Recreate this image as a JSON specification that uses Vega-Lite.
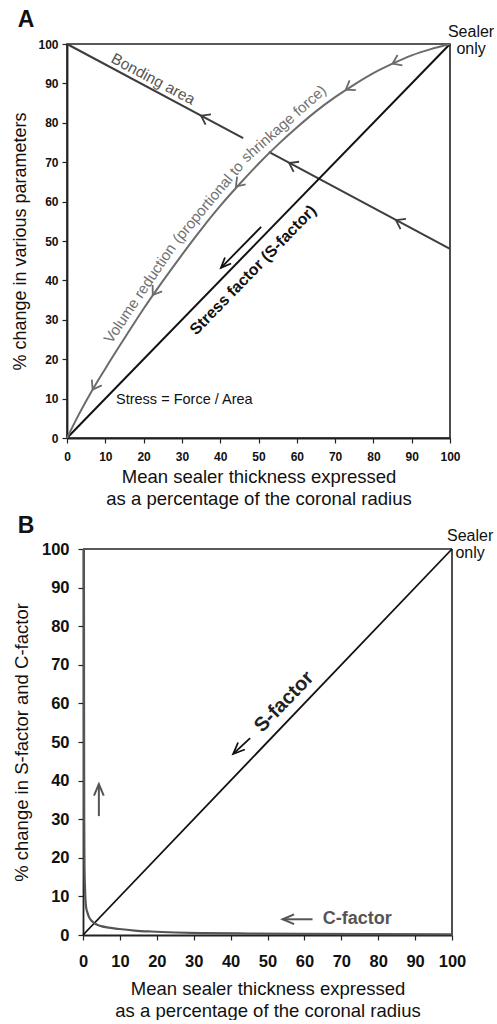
{
  "$schema": "https://vega.github.io/schema/vega-lite/v6.json",
  "background": "white",
  "padding": {"left": 11, "top": 7, "right": 0, "bottom": 0},
  "spacing": 5,
  "config": {
    "font": "Liberation Sans",
    "view": {"stroke": "#222", "strokeWidth": 1.6},
    "axis": {"grid": false, "domainColor": "#222", "domainWidth": 1.8, "tickColor": "#222", "tickWidth": 1.2, "tickSize": 5, "labelFont": "Liberation Sans", "labelFontWeight": "bold", "labelColor": "#111", "labelFlush": false, "labelOverlap": false, "titleFont": "Liberation Sans", "titleFontWeight": "normal", "titleColor": "#111"},
    "text": {"font": "Liberation Sans"}
  },
  "datasets": {
    "volume": [{"x":0,"y":0},{"x":3,"y":5.8},{"x":6.7,"y":12.3},{"x":10,"y":17.6},{"x":15,"y":25.3},{"x":20,"y":32.8},{"x":25,"y":39.8},{"x":30,"y":46.5},{"x":35,"y":52.9},{"x":40,"y":58.9},{"x":45,"y":64.4},{"x":50,"y":69.6},{"x":55,"y":74.4},{"x":60,"y":78.8},{"x":65,"y":82.9},{"x":70,"y":86.5},{"x":75,"y":89.7},{"x":80,"y":92.6},{"x":85,"y":95.0},{"x":90,"y":97.1},{"x":95,"y":98.7},{"x":100,"y":100}],
    "bonding": [{"x":0,"y":100,"part":"a"},{"x":46,"y":76.1,"part":"a"},{"x":52.7,"y":72.6,"part":"b"},{"x":100,"y":48,"part":"b"}],
    "diag": [{"x":0,"y":0},{"x":100,"y":100}],
    "cfactor": [{"x":0.25,"y":100},{"x":0.28,"y":60},{"x":0.33,"y":30},{"x":0.4,"y":18},{"x":0.55,"y":12},{"x":0.8,"y":7.5},{"x":1.2,"y":5.8},{"x":1.7,"y":4.5},{"x":2.3,"y":3.7},{"x":3.1,"y":3.1},{"x":4,"y":2.6},{"x":4.9,"y":2.3},{"x":7,"y":1.9},{"x":9.8,"y":1.55},{"x":14,"y":1.15},{"x":18.4,"y":0.9},{"x":25,"y":0.65},{"x":32,"y":0.5},{"x":45,"y":0.38},{"x":60,"y":0.3},{"x":80,"y":0.24},{"x":100,"y":0.2}]
  },
  "vconcat": [
    {
      "width": 383,
      "height": 394,
      "encoding": {
        "x": {"field": "x", "type": "quantitative", "scale": {"domain": [0, 100], "nice": false},
          "axis": {"values": [0,10,20,30,40,50,60,70,80,90,100], "labelFontSize": 12, "labelPadding": 8, "title": ["Mean sealer thickness expressed", "as a percentage of the coronal radius"], "titleFontSize": 18.5, "titleLineHeight": 22, "titlePadding": 5}},
        "y": {"field": "y", "type": "quantitative", "scale": {"domain": [0, 100], "nice": false},
          "axis": {"values": [0,10,20,30,40,50,60,70,80,90,100], "labelFontSize": 12, "labelPadding": 4, "title": "% change in various parameters", "titleFontSize": 18, "titlePadding": 8}}
      },
      "layer": [
        {"data": {"name": "bonding"}, "mark": {"type": "line", "color": "#3d3d3d", "strokeWidth": 2}, "encoding": {"detail": {"field": "part"}}},
        {"data": {"name": "diag"}, "mark": {"type": "line", "color": "#111", "strokeWidth": 2}},
        {"data": {"name": "volume"}, "mark": {"type": "line", "color": "#6b6b6b", "strokeWidth": 2, "interpolate": "monotone"}},
        {"data": {"values": [{"x":35,"y":81.8},{"x":58,"y":69.8},{"x":85.9,"y":55.3}]}, "mark": {"type": "point", "shape": "M1.64,-1.15L0,0L1.64,1.15", "size": 100, "angle": 28, "filled": false, "stroke": "#3d3d3d", "strokeWidth": 1.8, "opacity": 1}},
        {"data": {"values": [{"x":6.7,"y":12.3}]}, "mark": {"type": "point", "shape": "M1.64,-1.15L0,0L1.64,1.15", "size": 100, "angle": -60, "filled": false, "stroke": "#6b6b6b", "strokeWidth": 1.8, "opacity": 1}},
        {"data": {"values": [{"x":22.4,"y":36.3}]}, "mark": {"type": "point", "shape": "M1.64,-1.15L0,0L1.64,1.15", "size": 100, "angle": -56, "filled": false, "stroke": "#6b6b6b", "strokeWidth": 1.8, "opacity": 1}},
        {"data": {"values": [{"x":44.1,"y":63.8}]}, "mark": {"type": "point", "shape": "M1.64,-1.15L0,0L1.64,1.15", "size": 100, "angle": -48, "filled": false, "stroke": "#6b6b6b", "strokeWidth": 1.8, "opacity": 1}},
        {"data": {"values": [{"x":72.8,"y":88.4}]}, "mark": {"type": "point", "shape": "M1.64,-1.15L0,0L1.64,1.15", "size": 100, "angle": -33, "filled": false, "stroke": "#6b6b6b", "strokeWidth": 1.8, "opacity": 1}},
        {"data": {"values": [{"x":85,"y":95.0}]}, "mark": {"type": "point", "shape": "M1.64,-1.15L0,0L1.64,1.15", "size": 100, "angle": -25, "filled": false, "stroke": "#6b6b6b", "strokeWidth": 1.8, "opacity": 1}},
        {"data": {"values": [{"x":50.7,"y":53.6,"x2":40.2,"y2":43.2}]}, "mark": {"type": "rule", "color": "#111", "strokeWidth": 1.8}, "encoding": {"x2": {"field": "x2"}, "y2": {"field": "y2"}}},
        {"data": {"values": [{"x":40.2,"y":43.2}]}, "mark": {"type": "point", "shape": "M1.84,-0.78L0,0L1.84,0.78", "size": 121, "angle": -45.8, "filled": false, "stroke": "#111", "strokeWidth": 1.8, "opacity": 1}},
        {"data": {"values": [{"x":22.5,"y":91.1,"label":"Bonding area"}]}, "mark": {"type": "text", "angle": 28, "fontSize": 15.5, "color": "#555", "align": "center", "baseline": "middle"}, "encoding": {"text": {"field": "label"}}},
        {"data": {"values": [{"x":19.0,"y":36.7,"label":"Volume reduction"}]}, "mark": {"type": "text", "angle": -56, "fontSize": 15, "color": "#707070", "align": "center", "baseline": "middle"}, "encoding": {"text": {"field": "label"}}},
        {"data": {"values": [{"x":36.8,"y":59.8,"label":"(proportional to"}]}, "mark": {"type": "text", "angle": -50, "fontSize": 15, "color": "#707070", "align": "center", "baseline": "middle"}, "encoding": {"text": {"field": "label"}}},
        {"data": {"values": [{"x":56.6,"y":79.8,"label":"shrinkage force)"}]}, "mark": {"type": "text", "angle": -41.5, "fontSize": 15, "color": "#707070", "align": "center", "baseline": "middle"}, "encoding": {"text": {"field": "label"}}},
        {"data": {"values": [{"x":48.6,"y":42.6,"label":"Stress factor (S-factor)"}]}, "mark": {"type": "text", "angle": -45.8, "fontSize": 16, "fontWeight": "bold", "color": "#111", "align": "center", "baseline": "middle"}, "encoding": {"text": {"field": "label"}}},
        {"data": {"values": [{"x":12.8,"y":9.6,"label":"Stress = Force / Area"}]}, "mark": {"type": "text", "fontSize": 14.5, "color": "#111", "align": "left", "baseline": "middle"}, "encoding": {"text": {"field": "label"}}},
        {"data": {"values": [{"x":105.5,"y":103.1,"label":"Sealer\nonly"}]}, "mark": {"type": "text", "fontSize": 16, "lineHeight": 17, "lineBreak": "\n", "color": "#111", "align": "center", "baseline": "middle"}, "encoding": {"text": {"field": "label"}}},
        {"data": {"values": [{"x":-10.7,"y":106.2,"label":"A"}]}, "mark": {"type": "text", "fontSize": 23, "fontWeight": "bold", "color": "#111", "align": "center", "baseline": "middle"}, "encoding": {"text": {"field": "label"}}}
      ]
    },
    {
      "width": 385,
      "height": 386,
      "view": {"stroke": null},
      "encoding": {
        "x": {"field": "x", "type": "quantitative", "scale": {"domain": [0, 100], "range": [16, 385], "nice": false},
          "axis": {"values": [0,10,20,30,40,50,60,70,80,90,100], "labelFontSize": 16.5, "labelPadding": 13, "title": ["Mean sealer thickness expressed", "as a percentage of the coronal radius"], "titleFontSize": 18.5, "titleLineHeight": 22, "titlePadding": 10}},
        "y": {"field": "y", "type": "quantitative", "scale": {"domain": [0, 100], "nice": false},
          "axis": {"values": [0,10,20,30,40,50,60,70,80,90,100], "offset": -16, "labelFontSize": 16.5, "labelPadding": 9, "title": "% change in S-factor and C-factor", "titleFontSize": 18.5, "titlePadding": 9.5}}
      },
      "layer": [
        {"data": {"values": [{"x":0,"y":100,"x2":100,"y2":100},{"x":100,"y":0,"x2":100,"y2":100}]}, "mark": {"type": "rule", "color": "#222", "strokeWidth": 1.6}, "encoding": {"x2": {"field": "x2"}, "y2": {"field": "y2"}}},
        {"data": {"name": "diag"}, "mark": {"type": "line", "color": "#111", "strokeWidth": 1.8}},
        {"data": {"name": "cfactor"}, "mark": {"type": "line", "color": "#555", "strokeWidth": 2.2, "interpolate": "monotone"}},
        {"data": {"values": [{"x":45.3,"y":51.0,"x2":40.7,"y2":46.9}]}, "mark": {"type": "rule", "color": "#111", "strokeWidth": 1.8}, "encoding": {"x2": {"field": "x2"}, "y2": {"field": "y2"}}},
        {"data": {"values": [{"x":40.7,"y":46.9}]}, "mark": {"type": "point", "shape": "M1.84,-0.78L0,0L1.84,0.78", "size": 156, "angle": -44, "filled": false, "stroke": "#111", "strokeWidth": 1.8, "opacity": 1}},
        {"data": {"values": [{"x":62.2,"y":4.07,"x2":54.1,"y2":4.07}]}, "mark": {"type": "rule", "color": "#555", "strokeWidth": 2}, "encoding": {"x2": {"field": "x2"}, "y2": {"field": "y2"}}},
        {"data": {"values": [{"x":54.1,"y":4.07}]}, "mark": {"type": "point", "shape": "M1.84,-0.78L0,0L1.84,0.78", "size": 156, "angle": 0, "filled": false, "stroke": "#555", "strokeWidth": 2, "opacity": 1}},
        {"data": {"values": [{"x":4.3,"y":30.8,"x2":4.3,"y2":39.1}]}, "mark": {"type": "rule", "color": "#555", "strokeWidth": 2}, "encoding": {"x2": {"field": "x2"}, "y2": {"field": "y2"}}},
        {"data": {"values": [{"x":4.3,"y":39.1}]}, "mark": {"type": "point", "shape": "M1.84,-0.78L0,0L1.84,0.78", "size": 156, "angle": 90, "filled": false, "stroke": "#555", "strokeWidth": 2, "opacity": 1}},
        {"data": {"values": [{"x":54.5,"y":60.4,"label":"S-factor"}]}, "mark": {"type": "text", "angle": -46.3, "fontSize": 20, "fontWeight": "bold", "color": "#222", "align": "center", "baseline": "middle"}, "encoding": {"text": {"field": "label"}}},
        {"data": {"values": [{"x":65.0,"y":4.1,"label":"C-factor"}]}, "mark": {"type": "text", "fontSize": 18, "fontWeight": "bold", "color": "#555", "align": "left", "baseline": "middle"}, "encoding": {"text": {"field": "label"}}},
        {"data": {"values": [{"x":104.9,"y":103.3,"label":"Sealer\nonly"}]}, "mark": {"type": "text", "fontSize": 16, "lineHeight": 17, "lineBreak": "\n", "color": "#111", "align": "center", "baseline": "middle"}, "encoding": {"text": {"field": "label"}}},
        {"data": {"values": [{"x":-15.4,"y":106.0,"label":"B"}]}, "mark": {"type": "text", "fontSize": 23, "fontWeight": "bold", "color": "#111", "align": "center", "baseline": "middle"}, "encoding": {"text": {"field": "label"}}}
      ]
    }
  ]
}
